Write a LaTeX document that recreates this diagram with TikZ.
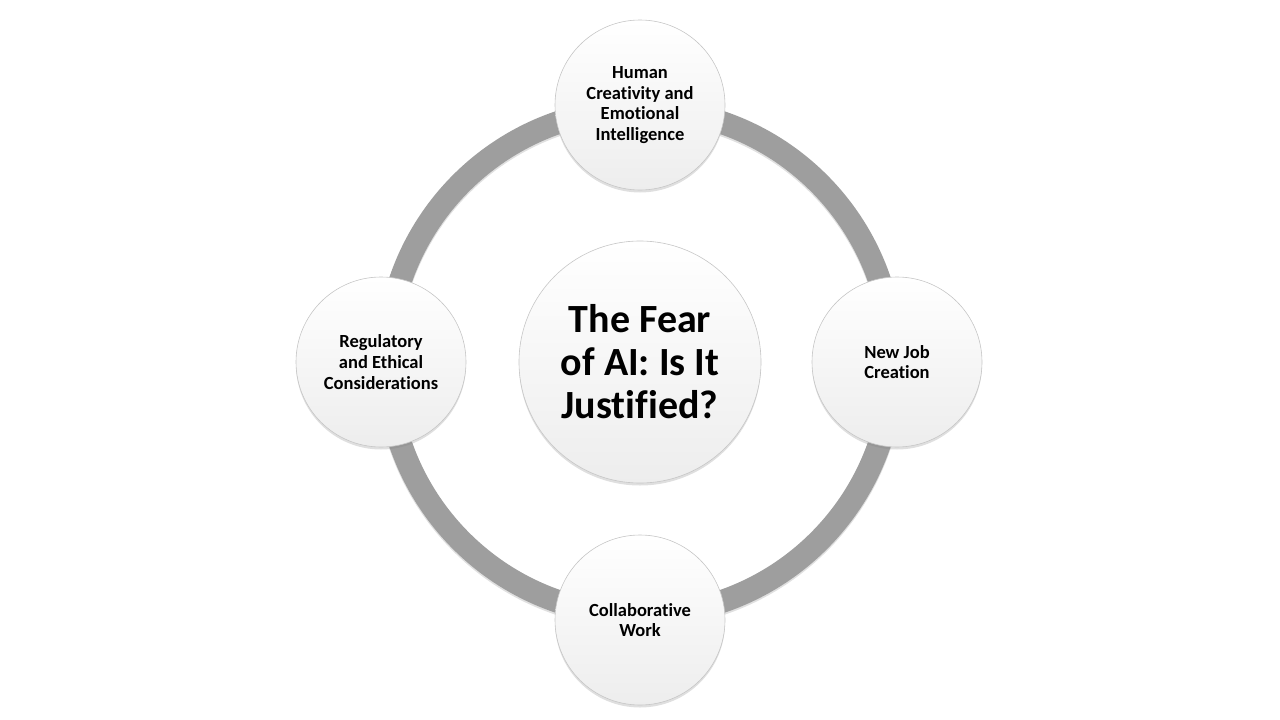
\documentclass[tikz,border=0pt]{standalone}
\usepackage{fontspec}
\setmainfont[Ligatures={NoCommon}]{Carlito}
\usetikzlibrary{shadows}
\definecolor{ringgray}{HTML}{9E9E9E}
\tikzset{
  bubble/.style={circle, draw=gray!45, line width=0.6pt, top color=white, bottom color=gray!14,
    shading angle=0, drop shadow={opacity=0.25, shadow xshift=0pt, shadow yshift=-2.5pt},
    align=center, font=\bfseries\fontsize{18.5}{20.7}\selectfont, inner sep=0pt},
  small/.style={bubble, minimum size=170pt},
  big/.style={bubble, minimum size=242pt, font=\bfseries\fontsize{40}{43}\selectfont},
  ring/.style={line width=23pt, draw=ringgray}
}
\begin{document}
\begin{tikzpicture}[x=1pt,y=-1pt]
\useasboundingbox (0,0) rectangle (1280,720);
\coordinate (c) at (640,362);
\draw[line width=23pt, draw=black!12] ([yshift=-2pt]c) circle (253);
\draw[ring] (c) circle (253);
\node[big] (center) at (c) {The Fear\\of AI: Is It\\Justified?};
\node[small] (top) at (640,105) {Human\\Creativity and\\Emotional\\Intelligence};
\node[small] (right) at (897,362) {New Job\\Creation};
\node[small] (bottom) at (640,620) {Collaborative\\Work};
\node[small] (left) at (381,362) {Regulatory\\and Ethical\\Considerations};
\end{tikzpicture}
\end{document}
